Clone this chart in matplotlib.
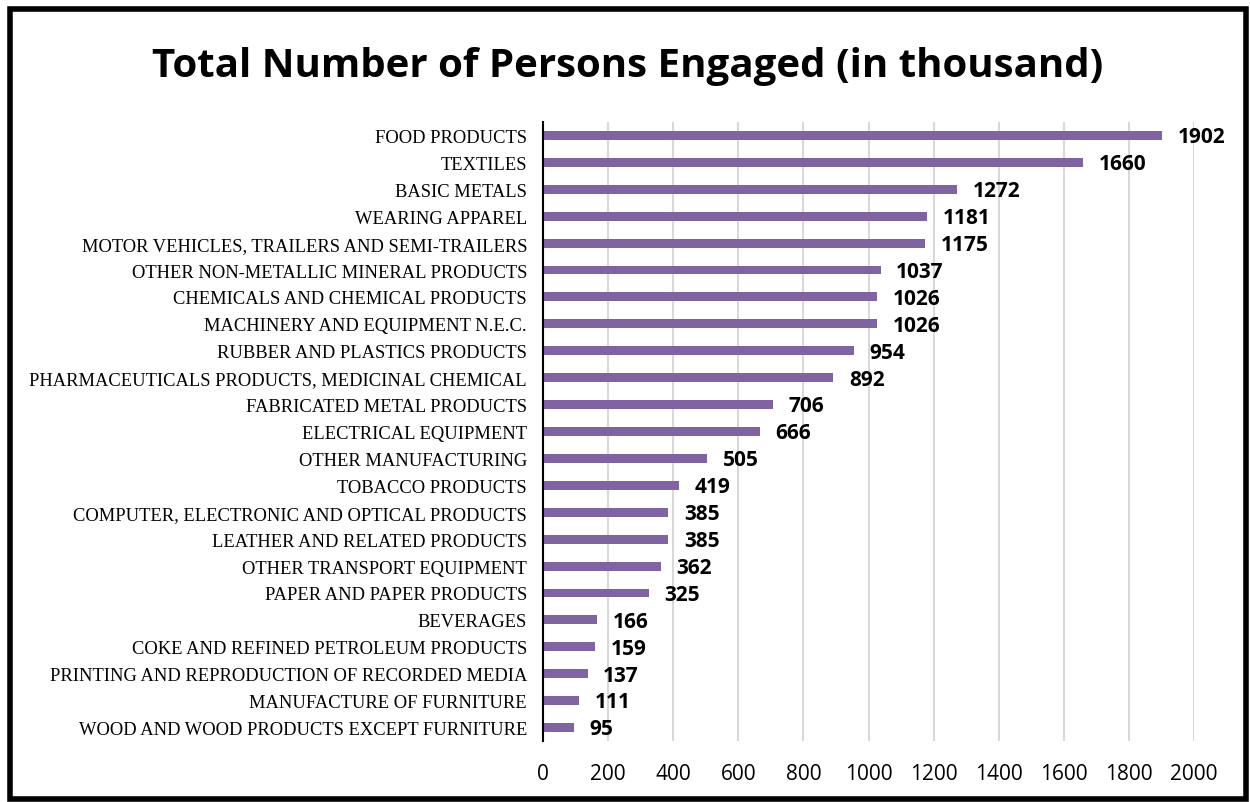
import matplotlib
matplotlib.use("Agg")
import matplotlib.pyplot as plt
from matplotlib.patches import Rectangle

# -----------------------------
# Data (top to bottom)
# -----------------------------
categories = [
    "FOOD PRODUCTS",
    "TEXTILES",
    "BASIC METALS",
    "WEARING APPAREL",
    "MOTOR VEHICLES, TRAILERS AND SEMI-TRAILERS",
    "OTHER NON-METALLIC MINERAL PRODUCTS",
    "CHEMICALS AND CHEMICAL PRODUCTS",
    "MACHINERY AND EQUIPMENT N.E.C.",
    "RUBBER AND PLASTICS PRODUCTS",
    "PHARMACEUTICALS PRODUCTS, MEDICINAL CHEMICAL",
    "FABRICATED METAL PRODUCTS",
    "ELECTRICAL EQUIPMENT",
    "OTHER MANUFACTURING",
    "TOBACCO PRODUCTS",
    "COMPUTER, ELECTRONIC AND OPTICAL PRODUCTS",
    "LEATHER AND RELATED PRODUCTS",
    "OTHER TRANSPORT EQUIPMENT",
    "PAPER AND PAPER PRODUCTS",
    "BEVERAGES",
    "COKE AND REFINED PETROLEUM PRODUCTS",
    "PRINTING AND REPRODUCTION OF RECORDED MEDIA",
    "MANUFACTURE OF FURNITURE",
    "WOOD AND WOOD PRODUCTS EXCEPT FURNITURE",
]
persons = [1902, 1660, 1272, 1181, 1175, 1037, 1026, 1026, 954, 892,
           706, 666, 505, 419, 385, 385, 362, 325, 166, 159, 137, 111, 95]
x_ticks = [0, 200, 400, 600, 800, 1000, 1200, 1400, 1600, 1800, 2000]

bar_color = "#8064a2"
sans = ["Open Sans", "DejaVu Sans"]
serif = ["Liberation Serif", "DejaVu Serif"]

# -----------------------------
# Figure
# -----------------------------
fig = plt.figure(figsize=(12.5, 8.03), dpi=100)
ax = fig.add_axes([543 / 1250, 1 - 742 / 803, (1194 - 543) / 1250, (742 - 123) / 803])

pos = list(range(len(categories)))
ax.barh(pos, persons, height=0.33, color=bar_color, zorder=3)
ax.set_ylim(len(categories) - 0.5, -0.5)
ax.set_xlim(0, 2000)

# value labels
for p, v in zip(pos, persons):
    ax.text(v + 48, p + 0.05, str(v), va="center", ha="left", fontsize=15,
            fontweight="bold", family=sans, zorder=4)

ax.set_yticks(pos)
ax.set_yticklabels(categories, family=serif, fontsize=13.3)
ax.set_xticks(x_ticks)
ax.set_xticklabels([str(t) for t in x_ticks], family=sans, fontsize=15)
ax.tick_params(axis="y", length=0, pad=11.5)
ax.tick_params(axis="x", length=0, pad=16)

ax.xaxis.grid(True, color="#d9d9d9", linewidth=1.5, zorder=0)
ax.set_axisbelow(True)
for s in ["top", "right", "bottom"]:
    ax.spines[s].set_visible(False)
ax.spines["left"].set_linewidth(1.5)
ax.spines["left"].set_zorder(5)

fig.text(0.502, 1 - 66 / 803, "Total Number of Persons Engaged (in thousand)",
         ha="center", va="center", fontsize=29, fontweight="bold", family=sans)

# black frame around the chart
fig.patches.append(Rectangle((10 / 1250, 1 - 800 / 803), 1236 / 1250, 790 / 803,
                             transform=fig.transFigure, fill=False,
                             edgecolor="black", linewidth=4))

fig.savefig("out.png", dpi=100)
